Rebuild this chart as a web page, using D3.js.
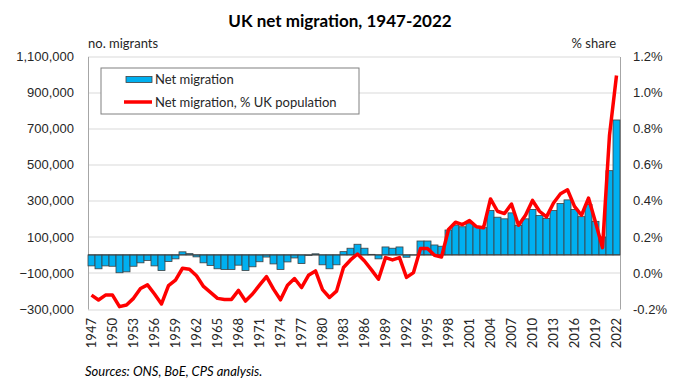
<!DOCTYPE html>
<html>
<head>
<meta charset="utf-8">
<script src="https://cdn.jsdelivr.net/npm/d3@7"></script>
<style>
  body { margin: 0; background: #fff; }
  svg { display: block; font-family: Lato, "Open Sans", sans-serif; }
  .tick-label { font-size: 13px; fill: #262626; }
</style>
</head>
<body>
<svg id="chart" width="680" height="386"></svg>
<script>
// categories
const years = d3.range(1947, 2023);

// net migration, thousands of people
const netMigration = [
  -61, -77, -61, -63, -99, -94, -63, -44, -31, -61,
  -87, -37, -22, 17, 7, -11, -44, -59, -77, -81,
  -81, -57, -87, -66, -38, -12, -50, -81, -39, -17,
  -48, -3, 6, -55, -77, -55, 18, 37, 59, 37,
  3, -22, 44, 37, 44, -13, -1, 77, 77, 55,
  48, 138, 165, 156, 173, 156, 151, 246, 209, 200,
  233, 164, 200, 252, 219, 202, 246, 285, 305, 252,
  212, 279, 186, 99, 467, 748
];

// net migration as % of UK population
const pctShare = [
  -0.123, -0.150, -0.123, -0.123, -0.187, -0.178, -0.141, -0.086, -0.066, -0.117,
  -0.172, -0.071, -0.040, 0.026, 0.020, -0.016, -0.075, -0.108, -0.141, -0.147,
  -0.147, -0.097, -0.156, -0.117, -0.068, -0.020, -0.090, -0.149, -0.068, -0.031,
  -0.081, -0.013, 0.011, -0.093, -0.136, -0.101, 0.030, 0.072, 0.105, 0.066,
  0.017, -0.035, 0.085, 0.072, 0.085, -0.025, 0.002, 0.136, 0.136, 0.098,
  0.088, 0.241, 0.281, 0.268, 0.290, 0.256, 0.250, 0.410, 0.342, 0.329,
  0.382, 0.264, 0.320, 0.402, 0.342, 0.311, 0.388, 0.439, 0.461, 0.369,
  0.320, 0.415, 0.281, 0.140, 0.764, 1.095
];

const leftTicks = [-300000, -100000, 100000, 300000, 500000, 700000, 900000, 1100000];
const rightTicks = [-0.2, 0, 0.2, 0.4, 0.6, 0.8, 1.0, 1.2];
const xTickYears = years.filter((y) => (y - 1947) % 3 === 0);

const margin = { top: 56.5, right: 60, bottom: 77, left: 88 };
const width = 680;
const height = 386;
const innerWidth = width - margin.left - margin.right;
const innerHeight = height - margin.top - margin.bottom;

const xScale = d3.scaleBand().domain(years).range([0, innerWidth]).padding(0);
const yLeft = d3.scaleLinear().domain([-300000, 1100000]).range([innerHeight, 0]);
const yRight = d3.scaleLinear().domain([-0.2, 1.2]).range([innerHeight, 0]);

const svg = d3.select("#chart");
const g = svg.append("g").attr("transform", `translate(${margin.left},${margin.top})`);

drawGrid(g);
drawAxis(g);
plotBars(g);
plotLine(g);
drawLegend(g);
drawTexts(svg);

function drawGrid(dest) {
  dest.append("g")
    .selectAll("line")
    .data(leftTicks)
    .enter()
    .append("line")
    .attr("x1", 0)
    .attr("x2", innerWidth)
    .attr("y1", (d) => Math.round(yLeft(d)) + 0.5)
    .attr("y2", (d) => Math.round(yLeft(d)) + 0.5)
    .attr("stroke", "#d9d9d9")
    .attr("stroke-width", 1);
}

function drawAxis(dest) {
  // left axis
  const left = dest.append("g").call(d3.axisLeft(yLeft).tickValues(leftTicks).tickSize(0).tickPadding(14).tickFormat(d3.format(",")));
  left.select(".domain").attr("stroke", "#a6a6a6");
  left.selectAll("text").attr("class", "tick-label").style("font-family", "inherit");

  // right axis
  const right = dest.append("g")
    .attr("transform", `translate(${innerWidth},0)`)
    .call(d3.axisRight(yRight).tickValues(rightTicks).tickSize(0).tickPadding(13).tickFormat((d) => d.toFixed(1) + "%"));
  right.select(".domain").attr("stroke", "#a6a6a6");
  right.selectAll("text").attr("class", "tick-label").style("font-family", "inherit");

  // x labels, rotated, at the bottom
  dest.append("g")
    .selectAll("text")
    .data(xTickYears)
    .enter()
    .append("text")
    .attr("class", "tick-label")
    .attr("text-anchor", "end")
    .attr("transform", (d) => `translate(${xScale(d) + xScale.bandwidth() / 2 + 4.5},${innerHeight + 9}) rotate(-90)`)
    .text((d) => d);
}

function plotBars(dest) {
  dest.append("g")
    .selectAll("rect")
    .data(years.map((y, i) => ({ year: y, value: netMigration[i] * 1000 })))
    .enter()
    .append("rect")
    .attr("x", (d) => xScale(d.year))
    .attr("width", xScale.bandwidth())
    .attr("y", (d) => yLeft(Math.max(0, d.value)))
    .attr("height", (d) => Math.abs(yLeft(d.value) - yLeft(0)))
    .attr("fill", "#00b0f0")
    .attr("stroke", "#404040")
    .attr("stroke-width", 0.8);

  // zero line
  dest.append("line")
    .attr("x1", 0)
    .attr("x2", innerWidth)
    .attr("y1", yLeft(0))
    .attr("y2", yLeft(0))
    .attr("stroke", "#404040")
    .attr("stroke-width", 1);
}

function plotLine(dest) {
  const valueline = d3.line()
    .x((d, i) => xScale(years[i]) + xScale.bandwidth() / 2)
    .y((d) => yRight(d));

  dest.append("path")
    .attr("d", valueline(pctShare))
    .attr("fill", "none")
    .attr("stroke", "#ff0000")
    .attr("stroke-width", 3.5)
    .attr("stroke-linejoin", "round");
}

function drawLegend(dest) {
  const legend = dest.append("g").attr("transform", `translate(${101 - margin.left},${68 - margin.top})`);
  legend.append("rect")
    .attr("width", 258)
    .attr("height", 46)
    .attr("fill", "#fff")
    .attr("stroke", "#808080");

  legend.append("rect")
    .attr("x", 25)
    .attr("y", 8.5)
    .attr("width", 26)
    .attr("height", 6)
    .attr("fill", "#00b0f0")
    .attr("stroke", "#404040")
    .attr("stroke-width", 0.8);
  legend.append("text")
    .attr("x", 54)
    .attr("y", 16)
    .attr("font-size", "13px")
    .attr("fill", "#262626")
    .text("Net migration");

  legend.append("line")
    .attr("x1", 23)
    .attr("x2", 51)
    .attr("y1", 34)
    .attr("y2", 34)
    .attr("stroke", "#ff0000")
    .attr("stroke-width", 3.5);
  legend.append("text")
    .attr("x", 54)
    .attr("y", 38.5)
    .attr("font-size", "13px")
    .attr("fill", "#262626")
    .text("Net migration, % UK population");
}

function drawTexts(dest) {
  dest.append("text")
    .attr("x", 340)
    .attr("y", 27)
    .attr("text-anchor", "middle")
    .attr("font-size", "17px")
    .attr("font-weight", "bold")
    .attr("fill", "#000")
    .text("UK net migration, 1947-2022");

  dest.append("text")
    .attr("x", 88)
    .attr("y", 48)
    .attr("font-size", "13px")
    .attr("fill", "#262626")
    .text("no. migrants");

  dest.append("text")
    .attr("x", 616)
    .attr("y", 48)
    .attr("text-anchor", "end")
    .attr("font-size", "13px")
    .attr("fill", "#262626")
    .text("% share");

  dest.append("text")
    .attr("x", 85)
    .attr("y", 376)
    .attr("font-size", "13px")
    .attr("font-style", "italic")
    .attr("fill", "#000")
    .text("Sources: ONS, BoE, CPS analysis.");
}
</script>
</body>
</html>
